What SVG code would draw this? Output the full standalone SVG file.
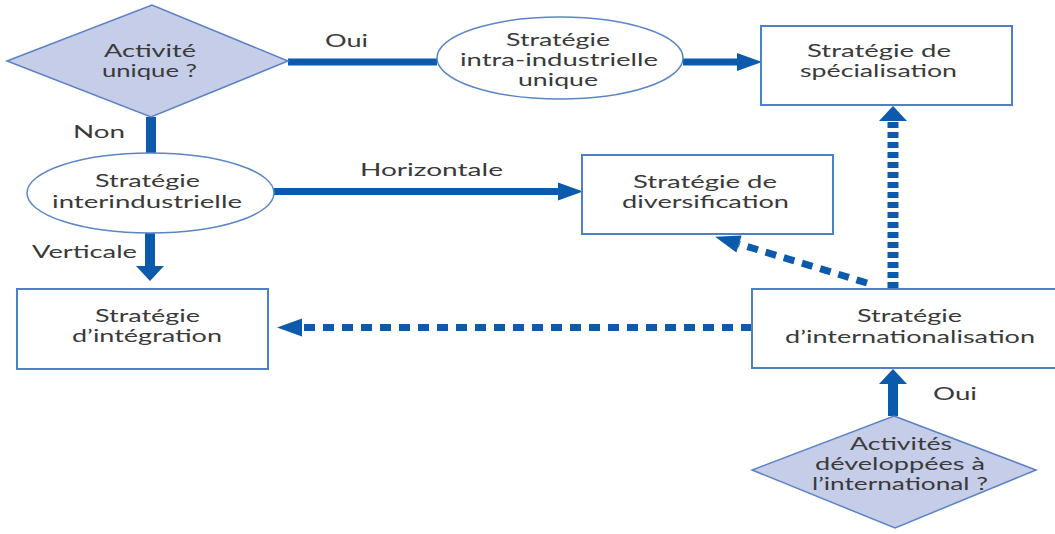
<svg xmlns="http://www.w3.org/2000/svg" width="1055" height="534" viewBox="0 0 1055 534">
  <style>
    .lbl { font-family: "Lato", "Open Sans", "DejaVu Sans", sans-serif; font-size: 18px; fill: #3a3a3a; text-anchor: middle; }
    .box { fill: #ffffff; stroke: #4f80c4; stroke-width: 2; }
    .oval { fill: #ffffff; stroke: #5a86c6; stroke-width: 1.5; }
    .dia { fill: #c6cde9; stroke: #5a82c4; stroke-width: 1.5; }
    .h { fill: none; stroke: #0b5aab; stroke-width: 7; }
    .v { fill: none; stroke: #0b5aab; stroke-width: 10; }
    .dash-h { fill: none; stroke: #0b5aab; stroke-width: 7; stroke-dasharray: 11 8; }
    .dash-v { fill: none; stroke: #0b5aab; stroke-width: 11; stroke-dasharray: 6 4; }
    .head { fill: #0b5aab; }
  </style>
  <defs>
    <!-- arrowheads for horizontal runs: long and narrow -->
    <marker id="head-h" markerUnits="userSpaceOnUse" viewBox="0 -10 26 20" refX="0" refY="0" markerWidth="26" markerHeight="20" orient="auto" overflow="visible">
      <path class="head" d="M0,-9 L25,0 L0,9 z"/>
    </marker>
    <!-- arrowheads for vertical runs: short and wide -->
    <marker id="head-v" markerUnits="userSpaceOnUse" viewBox="0 -15 16 30" refX="0" refY="0" markerWidth="16" markerHeight="30" orient="auto" overflow="visible">
      <path class="head" d="M0,-14 L15,0 L0,14 z"/>
    </marker>
  </defs>

  <!-- connectors -->
  <g id="connectors">
    <path class="h" d="M288,62 H437"/>
    <path class="h" d="M683,62 H737" marker-end="url(#head-h)"/>
    <path class="v" d="M151,117 V153"/>
    <path class="h" d="M274,191.5 H558" marker-end="url(#head-h)"/>
    <path class="v" d="M150,233 V266" marker-end="url(#head-v)"/>
    <path class="dash-h" d="M752,327.5 H302" marker-end="url(#head-h)"/>
    <path class="dash-v" d="M893,288 V121" marker-end="url(#head-v)"/>
    <path class="dash-h" d="M867,283 L739,244" marker-end="url(#head-h)"/>
    <path class="v" d="M893,416 V384" marker-end="url(#head-v)"/>
  </g>

  <!-- decision: single activity -->
  <g id="q-activite">
    <polygon class="dia" points="7,61 152,5 288,61 151,117"/>
    <text class="lbl" x="150" y="57" textLength="92" lengthAdjust="spacingAndGlyphs">Activité</text>
    <text class="lbl" x="149.5" y="77" textLength="95" lengthAdjust="spacingAndGlyphs">unique ?</text>
  </g>

  <g id="lbl-oui-1">
    <text class="lbl" x="346.5" y="47" textLength="43" lengthAdjust="spacingAndGlyphs">Oui</text>
  </g>

  <g id="intra-industrielle">
    <ellipse class="oval" cx="560" cy="58" rx="123" ry="41"/>
    <text class="lbl" x="558" y="46" textLength="104" lengthAdjust="spacingAndGlyphs">Stratégie</text>
    <text class="lbl" x="559" y="66" textLength="198" lengthAdjust="spacingAndGlyphs">intra-industrielle</text>
    <text class="lbl" x="558" y="86" textLength="80" lengthAdjust="spacingAndGlyphs">unique</text>
  </g>

  <g id="specialisation">
    <rect class="box" x="761" y="26" width="251" height="79"/>
    <text class="lbl" x="879" y="57" textLength="144" lengthAdjust="spacingAndGlyphs">Stratégie de</text>
    <text class="lbl" x="878.5" y="77" textLength="157" lengthAdjust="spacingAndGlyphs">spécialisation</text>
  </g>

  <g id="lbl-non">
    <text class="lbl" x="99" y="138" textLength="52" lengthAdjust="spacingAndGlyphs">Non</text>
  </g>

  <g id="interindustrielle">
    <ellipse class="oval" cx="150.5" cy="193" rx="123.5" ry="40"/>
    <text class="lbl" x="147.5" y="187" textLength="105" lengthAdjust="spacingAndGlyphs">Stratégie</text>
    <text class="lbl" x="147" y="208" textLength="190" lengthAdjust="spacingAndGlyphs">interindustrielle</text>
  </g>

  <g id="lbl-horizontale">
    <text class="lbl" x="431.5" y="176" textLength="143" lengthAdjust="spacingAndGlyphs">Horizontale</text>
  </g>

  <g id="lbl-verticale">
    <text class="lbl" x="84.5" y="258" textLength="105" lengthAdjust="spacingAndGlyphs">Verticale</text>
  </g>

  <g id="diversification">
    <rect class="box" x="582" y="155" width="251" height="79"/>
    <text class="lbl" x="705" y="188" textLength="144" lengthAdjust="spacingAndGlyphs">Stratégie de</text>
    <text class="lbl" x="705.5" y="208" textLength="167" lengthAdjust="spacingAndGlyphs">diversification</text>
  </g>

  <g id="integration">
    <rect class="box" x="17" y="289" width="251" height="80"/>
    <text class="lbl" x="147.5" y="322" textLength="105" lengthAdjust="spacingAndGlyphs">Stratégie</text>
    <text class="lbl" x="147" y="342" textLength="150" lengthAdjust="spacingAndGlyphs">d’intégration</text>
  </g>

  <g id="internationalisation">
    <rect class="box" x="752" y="289" width="310" height="79"/>
    <text class="lbl" x="909.5" y="322" textLength="105" lengthAdjust="spacingAndGlyphs">Stratégie</text>
    <text class="lbl" x="910" y="343" textLength="250" lengthAdjust="spacingAndGlyphs">d’internationalisation</text>
  </g>

  <g id="lbl-oui-2">
    <text class="lbl" x="955" y="400" textLength="44" lengthAdjust="spacingAndGlyphs">Oui</text>
  </g>

  <!-- decision: international activities -->
  <g id="q-international">
    <polygon class="dia" points="894,416 1036,470 895,528 752,470"/>
    <text class="lbl" x="901" y="450" textLength="102" lengthAdjust="spacingAndGlyphs">Activités</text>
    <text class="lbl" x="900" y="470" textLength="170" lengthAdjust="spacingAndGlyphs">développées à</text>
    <text class="lbl" x="900" y="490" textLength="176" lengthAdjust="spacingAndGlyphs">l’international ?</text>
  </g>
</svg>
